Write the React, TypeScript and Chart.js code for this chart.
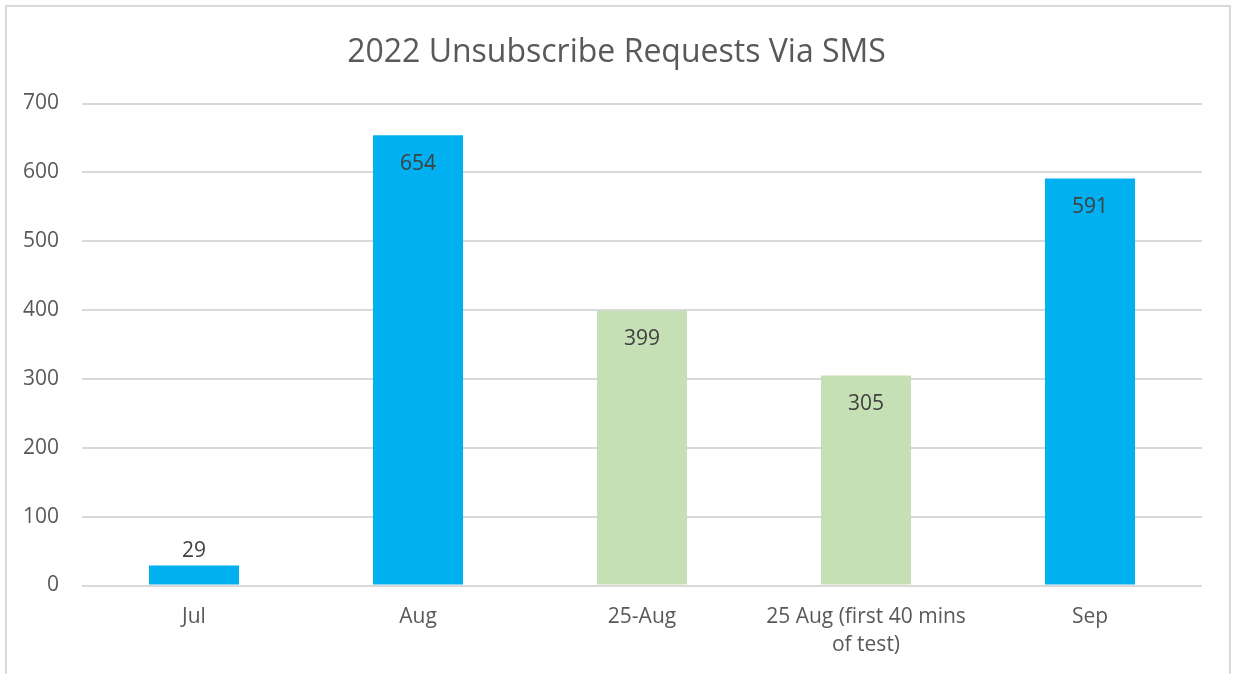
import React, { useEffect, useRef } from "react";
import { Chart, registerables } from "chart.js";

Chart.register(...registerables);

const categories: (string | string[])[] = ["Jul", "Aug", "25-Aug", ["25 Aug (first 40 mins", "of test)"], "Sep"];
const requests: number[] = [29, 654, 399, 305, 591];
const barColors: string[] = ["#00B0F0", "#00B0F0", "#C5E0B4", "#C5E0B4", "#00B0F0"];
const yTicks: number[] = [0, 100, 200, 300, 400, 500, 600, 700];
const titleText = "2022 Unsubscribe Requests Via SMS";

const FONT = "'Open Sans', 'Noto Sans', sans-serif";

const dataLabelPlugin = {
  id: "dataLabels",
  afterDatasetsDraw(chart: any) {
    const ctx = chart.ctx;
    const meta = chart.getDatasetMeta(0);
    const ds = chart.data.datasets[0];
    ctx.save();
    ctx.font = `21px ${FONT}`;
    ctx.fillStyle = "#404040";
    ctx.textAlign = "center";
    ctx.textBaseline = "middle";
    meta.data.forEach((bar: any, i: number) => {
      const h = bar.base - bar.y;
      const y = h > 45 ? bar.y + 28.5 : bar.y - 14.5;
      ctx.fillText(String(ds.data[i]), bar.x, y);
    });
    ctx.restore();
  },
};

export default function App() {
  const ref = useRef<HTMLCanvasElement | null>(null);
  useEffect(() => {
    if (!ref.current) return;
    const chart = new Chart(ref.current, {
      type: "bar",
      data: {
        labels: categories,
        datasets: [
          {
            data: requests,
            backgroundColor: barColors,
            borderWidth: 0,
            categoryPercentage: 1,
            barPercentage: 0.402,
          },
        ],
      },
      options: {
        animation: false,
        responsive: false,
        maintainAspectRatio: false,
        layout: { padding: 0 },
        plugins: {
          legend: { display: false },
          tooltip: { enabled: false },
          title: {
            display: true,
            text: titleText,
            color: "#595959",
            font: { family: FONT, size: 32, weight: "normal", lineHeight: 1.2 },
            padding: { top: 33.5, bottom: 31.6 },
          },
        },
        scales: {
          x: {
            grid: { display: false },
            border: { display: false },
            ticks: {
              color: "#595959",
              font: { family: FONT, size: 21, lineHeight: 1.35 },
              padding: 9,
              maxRotation: 0,
              autoSkip: false,
            },
            afterFit: (s: any) => {
              s.height = 88.5;
            },
          },
          y: {
            min: 0,
            max: 700,
            afterBuildTicks: (s: any) => {
              s.ticks = yTicks.map((v) => ({ value: v }));
            },
            grid: { color: "#D9D9D9", lineWidth: 2, drawTicks: false },
            border: { display: false },
            ticks: {
              color: "#595959",
              font: { family: FONT, size: 21 },
              padding: 23,
            },
            afterFit: (s: any) => {
              s.width = 82;
            },
          },
          yR: {
            position: "right",
            display: true,
            grid: { display: false },
            border: { display: false },
            ticks: { display: false },
            afterFit: (s: any) => {
              s.width = 31;
            },
          },
        },
      },
      plugins: [dataLabelPlugin],
    } as any);
    return () => chart.destroy();
  }, []);

  return (
    <div>
      <div
        style={{
          position: "fixed",
          left: 5,
          top: 5,
          width: 1226,
          height: 720,
          boxSizing: "border-box",
          border: "2px solid #D9D9D9",
          background: "#fff",
        }}
      />
      <canvas
        ref={ref}
        width={1233}
        height={674}
        style={{ position: "fixed", left: 0, top: 0, width: 1233, height: 674 }}
      />
    </div>
  );
}
